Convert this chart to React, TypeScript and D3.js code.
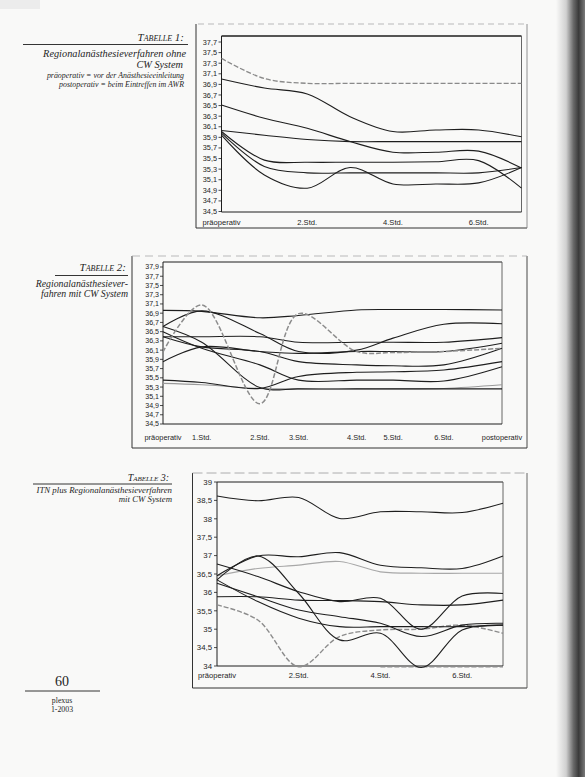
import React from "react";
import * as d3 from "d3";

// ---------- Tabelle 1 ----------
const categories1 = ["präoperativ", "1.Std.", "2.Std.", "3.Std.", "4.Std.", "5.Std.", "6.Std.", "postoperativ"];
const shownLabels1 = ["präoperativ", "2.Std.", "4.Std.", "6.Std."];
const yTicks1 = [34.5, 34.7, 34.9, 35.1, 35.3, 35.5, 35.7, 35.9, 36.1, 36.3, 36.5, 36.7, 36.9, 37.1, 37.3, 37.5, 37.7];
const t1A = [37.39, 37.01, 36.92, 36.92, 36.92, 36.92, 36.92, 36.92];
const t1B = [37.0, 36.83, 36.72, 36.29, 36.01, 36.04, 36.04, 35.91];
const t1C = [36.51, 36.26, 36.07, 35.82, 35.62, 35.62, 35.64, 35.32];
const t1D = [36.03, 35.94, 35.86, 35.82, 35.82, 35.82, 35.82, 35.82];
const t1E = [36.01, 35.47, 35.43, 35.43, 35.43, 35.44, 35.46, 34.94];
const t1F = [35.98, 35.35, 35.23, 35.23, 35.23, 35.23, 35.23, 35.33];
const t1G = [35.94, 35.19, 34.94, 35.33, 35.02, 35.02, 35.04, 35.33];
const series1 = [t1B, t1C, t1D, t1E, t1F, t1G];
const graySeries1 = [t1A];

// ---------- Tabelle 2 ----------
const categories2 = ["präoperativ", "1.Std.", "2.Std.", "3.Std.", "4.Std.", "5.Std.", "6.Std.", "postoperativ"];
const hours2 = [0, 0.8, 2.0, 2.8, 4.0, 4.75, 5.8, 7.0];
const yTicks2 = [34.5, 34.7, 34.9, 35.1, 35.3, 35.5, 35.7, 35.9, 36.1, 36.3, 36.5, 36.7, 36.9, 37.1, 37.3, 37.5, 37.7, 37.9];
const t2L1 = [36.96, 36.94, 36.8, 36.85, 36.97, 36.98, 36.98, 36.97];
const t2L2 = [36.61, 36.95, 36.46, 36.07, 36.1, 36.36, 36.66, 36.67];
const t2L3 = [36.39, 36.39, 36.39, 36.27, 36.27, 36.27, 36.27, 36.37];
const t2L4 = [36.61, 36.27, 35.29, 35.26, 35.26, 35.26, 35.26, 35.26];
const t2L5 = [36.39, 36.17, 36.07, 35.85, 35.78, 35.76, 35.78, 36.14];
const t2L6 = [35.85, 36.17, 36.07, 36.03, 36.07, 36.07, 36.07, 36.25];
const t2L7 = [36.5, 36.14, 35.78, 35.45, 35.45, 35.45, 35.43, 35.74];
const t2L8 = [35.45, 35.4, 35.27, 35.53, 35.62, 35.63, 35.67, 35.85];
const t2L9 = [35.38, 35.35, 35.27, 35.26, 35.26, 35.26, 35.27, 35.35];
const t2Gray = [36.06, 37.08, 34.94, 36.89, 36.07, 36.05, 36.07, 36.14];
const series2 = [t2L1, t2L2, t2L3, t2L4, t2L5, t2L6, t2L7, t2L8];
const lightSeries2 = [t2L9];
const graySeries2 = [t2Gray];

// ---------- Tabelle 3 ----------
const categories3 = ["präoperativ", "1.Std.", "2.Std.", "3.Std.", "4.Std.", "5.Std.", "6.Std.", "postoperativ"];
const shownLabels3 = ["präoperativ", "2.Std.", "4.Std.", "6.Std."];
const yTicks3 = [34, 34.5, 35, 35.5, 36, 36.5, 37, 37.5, 38, 38.5, 39];
const t3S1 = [38.62, 38.49, 38.58, 38.01, 38.19, 38.19, 38.17, 38.42];
const t3S2 = [36.45, 36.99, 36.97, 37.08, 36.74, 36.67, 36.65, 36.99];
const t3S3 = [36.45, 36.65, 36.74, 36.84, 36.56, 36.52, 36.52, 36.52];
const t3S4 = [36.77, 36.43, 36.02, 35.75, 35.84, 35.0, 35.9, 35.97];
const t3S5 = [36.34, 36.99, 35.97, 34.71, 34.89, 33.96, 34.98, 35.11];
const t3S6 = [35.88, 35.88, 35.79, 35.78, 35.75, 35.66, 35.66, 35.79];
const t3S7 = [36.34, 35.75, 35.3, 35.07, 35.07, 35.07, 35.07, 35.11];
const t3S8 = [36.25, 35.88, 35.52, 35.34, 35.16, 34.8, 35.11, 35.16];
const t3S9 = [35.66, 35.25, 33.98, 34.8, 34.98, 35.0, 35.11, 34.89];
const t3S10: (number | null)[] = [null, null, null, null, 33.98, 33.98, 33.98, 33.98];
const series3 = [t3S1, t3S2, t3S4, t3S5, t3S6, t3S7, t3S8];
const lightSeries3 = [t3S3];
const graySeries3 = [t3S9, t3S10];

const fmt = (v: number) => (Number.isInteger(v) ? String(v) : v.toFixed(1)).replace(".", ",");
const SANS = "'Liberation Sans', Arial, sans-serif";
const SERIF = "'Liberation Serif', 'Times New Roman', serif";
const INK = "#1e1e1e";

type Series = (number | null)[];

function Lines({ data, xAt, y, stroke, width, dash }: { data: Series[]; xAt: (i: number) => number; y: d3.ScaleLinear<number, number>; stroke: string; width: number; dash?: string }) {
  const gen = d3
    .line<number | null>()
    .defined((d) => d != null)
    .x((_, i) => xAt(i))
    .y((d) => y(d as number))
    .curve(d3.curveCatmullRom.alpha(0.5));
  return (
    <g>
      {data.map((s, k) => (
        <path key={k} d={gen(s) || ""} fill="none" stroke={stroke} strokeWidth={width} strokeDasharray={dash} strokeLinejoin="round" />
      ))}
    </g>
  );
}

function YAxis({ ticks, y, x, labelX, fs }: { ticks: number[]; y: d3.ScaleLinear<number, number>; x: number; labelX: number; fs: number }) {
  return (
    <g>
      {ticks.map((t) => (
        <g key={t}>
          <line x1={x - 3} x2={x} y1={y(t)} y2={y(t)} stroke={INK} strokeWidth={0.8} />
          <text x={labelX} y={y(t)} dy="0.35em" textAnchor="end" fontFamily={SANS} fontSize={fs} fill={INK}>
            {fmt(t)}
          </text>
        </g>
      ))}
    </g>
  );
}

export default function App() {
  // Chart 1 scales
  const x1 = d3.scalePoint<string>().domain(categories1).range([221.5, 521.5]);
  const y1 = d3.scaleLinear().domain([34.5, 37.7]).range([211.5, 42]);
  const xAt1 = (i: number) => x1(categories1[i]) as number;

  // Chart 2 scales
  const x2 = d3.scaleLinear().domain([0, 7]).range([163, 502]);
  const y2 = d3.scaleLinear().domain([34.5, 37.9]).range([424, 267]);
  const xAt2 = (i: number) => x2(hours2[i]);

  // Chart 3 scales
  const x3 = d3.scalePoint<string>().domain(categories3).range([217, 503]);
  const y3 = d3.scaleLinear().domain([34, 39]).range([666, 482]);
  const xAt3 = (i: number) => x3(categories3[i]) as number;

  return (
    <svg width={585} height={777} style={{ position: "absolute", left: 0, top: 0, background: "#f9f9f8" }}>
      <defs>
        <linearGradient id="binding" x1="0" x2="1" y1="0" y2="0">
          <stop offset="0" stopColor="#f9f9f8" />
          <stop offset="0.35" stopColor="#d0d0d0" />
          <stop offset="0.6" stopColor="#6a6a6a" />
          <stop offset="0.78" stopColor="#3a3a3a" />
          <stop offset="1" stopColor="#7a7a7a" />
        </linearGradient>
      </defs>
      <rect x={0} y={0} width={585} height={777} fill="#f9f9f8" />
      <rect x={0} y={0} width={40} height={9} fill="#ececec" />

      {/* ===== Tabelle 1 caption ===== */}
      <g fontFamily={SERIF} fontStyle="italic" fill={INK} textAnchor="end">
        <text x={184} y={41} fontSize={11} style={{ fontVariant: "small-caps" }}>Tabelle 1:</text>
        <line x1={23} x2={188} y1={44.5} y2={44.5} stroke={INK} strokeWidth={0.9} />
        <text x={186} y={57} fontSize={10.3}>Regionalanästhesieverfahren ohne</text>
        <text x={183} y={68} fontSize={10.3}>CW System</text>
        <text x={184} y={78} fontSize={7.9}>präoperativ = vor der Anästhesieeinleitung</text>
        <text x={184} y={86.5} fontSize={7.9}>postoperativ = beim Eintreffen im AWR</text>
      </g>

      {/* ===== Chart 1 ===== */}
      <g>
        <line x1={196} x2={196} y1={24} y2={228} stroke="#333" strokeWidth={1} />
        <line x1={196} x2={527} y1={228} y2={228} stroke="#333" strokeWidth={1} />
        <line x1={527} x2={527} y1={24} y2={228} stroke="#777" strokeWidth={0.8} />
        <line x1={198} x2={527} y1={24} y2={24} stroke="#aaa" strokeWidth={0.8} strokeDasharray="6,4" />
        <line x1={221.5} x2={521.5} y1={36} y2={36} stroke={INK} strokeWidth={1.4} />
        <line x1={521.5} x2={521.5} y1={36} y2={212} stroke="#555" strokeWidth={0.9} />
        <line x1={221.5} x2={221.5} y1={36} y2={212} stroke={INK} strokeWidth={1} />
        <line x1={221.5} x2={521.5} y1={212} y2={212} stroke={INK} strokeWidth={1} />
        <YAxis ticks={yTicks1} y={y1} x={221.5} labelX={217} fs={7.3} />
        {shownLabels1.map((c) => (
          <text key={c} x={x1(c)} y={224.5} textAnchor="middle" fontFamily={SANS} fontSize={7.6} fill={INK}>
            {c}
          </text>
        ))}
        <Lines data={graySeries1} xAt={xAt1} y={y1} stroke="#8a8a8a" width={1.3} dash="5,2" />
        <Lines data={series1} xAt={xAt1} y={y1} stroke={INK} width={1.1} />
      </g>

      {/* ===== Tabelle 2 caption ===== */}
      <g fontFamily={SERIF} fontStyle="italic" fill={INK} textAnchor="end">
        <text x={126} y={271} fontSize={11} style={{ fontVariant: "small-caps" }}>Tabelle 2:</text>
        <line x1={55} x2={128} y1={275.5} y2={275.5} stroke={INK} strokeWidth={0.9} />
        <text x={128} y={286.5} fontSize={9.8}>Regionalanästhesiever-</text>
        <text x={128} y={297} fontSize={9.8}>fahren mit CW System</text>
      </g>

      {/* ===== Chart 2 ===== */}
      <g>
        <line x1={132} x2={132} y1={256} y2={448} stroke="#333" strokeWidth={1} />
        <line x1={132} x2={527} y1={448} y2={448} stroke="#333" strokeWidth={1} />
        <line x1={527} x2={527} y1={256} y2={448} stroke="#333" strokeWidth={0.9} />
        <line x1={132} x2={527} y1={256} y2={256} stroke="#aaa" strokeWidth={0.8} strokeDasharray="8,5" />
        <line x1={163} x2={502} y1={262} y2={262} stroke={INK} strokeWidth={1} />
        <line x1={502} x2={502} y1={262} y2={424} stroke="#555" strokeWidth={0.9} />
        <line x1={163} x2={163} y1={262} y2={424} stroke={INK} strokeWidth={1} />
        <line x1={163} x2={502} y1={424} y2={424} stroke={INK} strokeWidth={1} />
        <YAxis ticks={yTicks2} y={y2} x={163} labelX={159} fs={7.1} />
        {categories2.map((c, i) => (
          <text key={c} x={x2(hours2[i])} y={440} textAnchor="middle" fontFamily={SANS} fontSize={7.4} fill={INK}>
            {c}
          </text>
        ))}
        <Lines data={lightSeries2} xAt={xAt2} y={y2} stroke="#9a9a9a" width={1.1} />
        <Lines data={series2} xAt={xAt2} y={y2} stroke={INK} width={1.1} />
        <Lines data={graySeries2} xAt={xAt2} y={y2} stroke="#8c8c8c" width={1.5} dash="5,2" />
      </g>

      {/* ===== Tabelle 3 caption ===== */}
      <g fontFamily={SERIF} fontStyle="italic" fill={INK} textAnchor="end">
        <text x={169} y={481} fontSize={10} style={{ fontVariant: "small-caps" }}>Tabelle 3:</text>
        <line x1={33} x2={172} y1={484} y2={484} stroke={INK} strokeWidth={0.9} />
        <text x={172} y={492.5} fontSize={8.8}>ITN plus Regionalanästhesieverfahren</text>
        <text x={172} y={501.5} fontSize={8.8}>mit CW System</text>
      </g>

      {/* ===== Chart 3 ===== */}
      <g>
        <line x1={192.5} x2={192.5} y1={473} y2={688} stroke="#333" strokeWidth={1} />
        <line x1={192.5} x2={527} y1={688} y2={688} stroke="#333" strokeWidth={1} />
        <line x1={527} x2={527} y1={473} y2={688} stroke="#555" strokeWidth={0.9} />
        <line x1={192.5} x2={527} y1={473} y2={473} stroke="#999" strokeWidth={0.8} strokeDasharray="10,4" />
        <line x1={217} x2={503} y1={482} y2={482} stroke={INK} strokeWidth={1} />
        <line x1={503} x2={503} y1={482} y2={666} stroke="#555" strokeWidth={0.9} />
        <line x1={217} x2={217} y1={482} y2={666} stroke={INK} strokeWidth={1} />
        <line x1={217} x2={503} y1={666} y2={666} stroke={INK} strokeWidth={1} />
        <YAxis ticks={yTicks3} y={y3} x={217} labelX={212} fs={7.8} />
        {shownLabels3.map((c) => (
          <text key={c} x={x3(c)} y={678} textAnchor="middle" fontFamily={SANS} fontSize={7.6} fill={INK}>
            {c}
          </text>
        ))}
        <Lines data={lightSeries3} xAt={xAt3} y={y3} stroke="#a8a8a8" width={1.2} />
        <Lines data={graySeries3} xAt={xAt3} y={y3} stroke="#8c8c8c" width={1.4} dash="5,2" />
        <Lines data={series3} xAt={xAt3} y={y3} stroke={INK} width={1.1} />
      </g>

      {/* ===== Footer ===== */}
      <g fontFamily={SERIF} fill={INK} textAnchor="middle">
        <text x={62} y={686} fontSize={14}>60</text>
        <line x1={25} x2={100} y1={691} y2={691} stroke={INK} strokeWidth={0.9} />
        <text x={62} y={703} fontSize={7.8}>plexus</text>
        <text x={62} y={712} fontSize={7.8}>1-2003</text>
      </g>

      {/* binding shadow */}
      <rect x={556} y={0} width={29} height={777} fill="url(#binding)" />
    </svg>
  );
}
